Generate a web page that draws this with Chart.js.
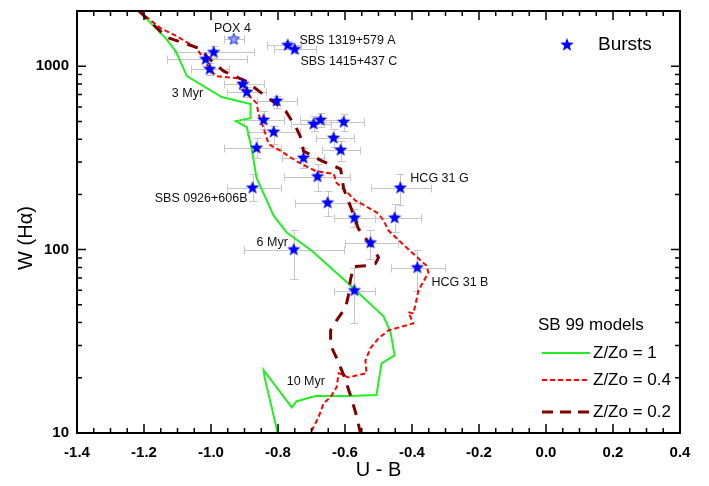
<!DOCTYPE html>
<html>
<head>
<meta charset="utf-8">
<script src="https://cdn.jsdelivr.net/npm/chart.js@4.4.0/dist/chart.umd.min.js"></script>
<style>
  html, body { margin: 0; padding: 0; background: #fff; }
  #wrap { width: 709px; height: 486px; }
</style>
</head>
<body>
<div id="wrap"><canvas id="myChart"></canvas></div>
<script>
// bursts: U-B colour, W(Halpha) and error bar ends
var burstUB   = [-0.932, -0.771, -0.750, -0.992, -1.016, -1.004, -0.905, -0.893, -0.804, -0.843, -0.813, -0.864, -0.876, -0.694, -0.673, -0.604, -0.634, -0.613, -0.724, -0.682, -0.435, -0.652, -0.572, -0.452, -0.524, -0.753, -0.384, -0.572];
var burstW    = [1402, 1301, 1237, 1191, 1092, 963, 798, 723, 646, 509, 438, 358, 217, 484, 509, 496, 406, 349, 316, 250, 217, 180, 149, 149, 109, 100, 79.8, 59.8];
var burstUBLo = [-0.962, -0.834, -0.813, -1.111, -1.132, -1.060, -0.962, -0.953, -0.864, -0.902, -0.893, -0.962, -0.953, -0.762, -0.733, -0.664, -0.688, -0.670, -0.789, -0.783, -0.521, -0.750, -0.634, -0.509, -0.601, -0.902, -0.464, -0.634];
var burstUBHi = [-0.902, -0.730, -0.688, -0.873, -0.893, -0.947, -0.843, -0.837, -0.744, -0.783, -0.733, -0.792, -0.792, -0.643, -0.613, -0.542, -0.572, -0.554, -0.664, -0.584, -0.342, -0.554, -0.509, -0.372, -0.441, -0.604, -0.300, -0.509];
var burstWLo  = [1334, 1237, 1177, 1105, 1000, 894, 750, 679, 591, 455, 376, 316, 185, 443, 466, 443, 363, 305, 279, 209, 174, 153, 132, 124, 89, 69, 59.8, 39.9];
var burstWHi  = [1456, 1367, 1301, 1284, 1177, 1038, 850, 769, 687, 569, 472, 406, 259, 535, 555, 548, 455, 391, 358, 293, 259, 209, 167, 178, 128, 128, 100, 79.8];

// SB 99 model tracks
var z1UB = [-1.215, -1.135, -1.105, -1.072, -0.968, -0.882, -0.882, -0.926, -0.893, -0.879, -0.864, -0.813, -0.774, -0.700, -0.590, -0.485, -0.464, -0.452, -0.491, -0.506, -0.590, -0.688, -0.744, -0.759, -0.843, -0.840, -0.801];
var z1W  = [2000, 1419, 1206, 883, 679, 621, 521, 502, 465, 358, 246, 153, 124, 98.8, 65.3, 43.3, 35.4, 26.5, 24.0, 16.1, 15.9, 15.9, 14.9, 13.8, 22.0, 20.1, 10];

var z04UB = [-1.215, -1.150, -1.102, -1.042, -1.013, -0.986, -0.923, -0.908, -0.879, -0.864, -0.858, -0.843, -0.828, -0.792, -0.747, -0.688, -0.634, -0.625, -0.598, -0.569, -0.551, -0.500, -0.485, -0.470, -0.432, -0.390, -0.357, -0.351, -0.381, -0.390, -0.396, -0.411, -0.396, -0.470, -0.500, -0.524, -0.539, -0.536, -0.590, -0.619, -0.625, -0.643, -0.664, -0.679, -0.703];
var z04W  = [2000, 1610, 1456, 1253, 1025, 883, 861, 759, 670, 629, 548, 460, 376, 345, 305, 268, 259, 231, 209, 185, 178, 157, 144, 127, 109, 92.7, 81.8, 75.0, 59.8, 49.7, 44.9, 45.5, 39.6, 36.3, 32.8, 29.0, 24.9, 21.2, 20.1, 21.2, 17.8, 15.7, 14.5, 12.2, 10];

var z02UB = [-1.215, -1.132, -1.036, -1.007, -0.962, -0.896, -0.837, -0.777, -0.744, -0.730, -0.724, -0.670, -0.613, -0.604, -0.581, -0.560, -0.515, -0.500, -0.509, -0.536, -0.575, -0.584, -0.590, -0.598, -0.625, -0.643, -0.643, -0.625, -0.604, -0.584, -0.566, -0.554];
var z02W  = [2000, 1438, 1253, 1105, 939, 828, 687, 569, 455, 401, 345, 305, 275, 215, 167, 130, 101, 90.5, 84.0, 81.8, 80.9, 67.9, 56.2, 48.4, 41.1, 36.3, 30.1, 25.6, 20.7, 16.1, 12.5, 10];

// text notes (left edge, middle)
var noteText = ['POX 4', 'SBS 1319+579 A', 'SBS 1415+437 C', '3 Myr', 'SBS 0926+606B', 'HCG 31 G', '6 Myr', 'HCG 31 B', '10 Myr'];
var noteUB   = [-0.991, -0.736, -0.733, -1.117, -1.168, -0.405, -0.864, -0.342, -0.774];
var noteW    = [1609, 1384, 1065, 713, 189, 243, 109, 66.3, 19.0];

var FONT = '"Liberation Sans", Arial, Helvetica, sans-serif';

function makeStar(fill, stroke, r) {
    var c = document.createElement('canvas');
    c.width = c.height = 2 * r + 2;
    var g = c.getContext('2d');
    g.beginPath();
    for (var i = 0; i < 10; i++) {
        var rr = i % 2 ? r * 0.42 : r;
        var ang = -Math.PI / 2 + i * Math.PI / 5;
        g.lineTo(r + 1 + rr * Math.cos(ang), r + 1 + rr * Math.sin(ang));
    }
    g.closePath();
    g.fillStyle = fill;
    g.fill();
    if (stroke) { g.strokeStyle = stroke; g.lineWidth = 1; g.stroke(); }
    return c;
}

var star = makeStar('#0000ff', null, 7);
var starPale = makeStar('#9aa4ff', '#2030ff', 6);

function pts(xs, ys) {
    return xs.map(function (v, i) { return { x: v, y: ys[i] }; });
}

var errorBars = {
    id: 'errorBars',
    beforeDatasetsDraw: function (chart) {
        var ctx = chart.ctx, xs = chart.scales.x, ys = chart.scales.y;
        ctx.save();
        ctx.strokeStyle = '#c6c6c6';
        ctx.lineWidth = 1;
        ctx.beginPath();
        for (var i = 0; i < burstUB.length; i++) {
            var x = Math.round(xs.getPixelForValue(burstUB[i])) + 0.5;
            var y = Math.round(ys.getPixelForValue(burstW[i])) + 0.5;
            var x0 = Math.round(xs.getPixelForValue(burstUBLo[i])) + 0.5;
            var x1 = Math.round(xs.getPixelForValue(burstUBHi[i])) + 0.5;
            var y0 = Math.round(ys.getPixelForValue(burstWLo[i])) + 0.5;
            var y1 = Math.round(ys.getPixelForValue(burstWHi[i])) + 0.5;
            ctx.moveTo(x0, y); ctx.lineTo(x1, y);
            ctx.moveTo(x0, y - 4); ctx.lineTo(x0, y + 4);
            ctx.moveTo(x1, y - 4); ctx.lineTo(x1, y + 4);
            ctx.moveTo(x, y0); ctx.lineTo(x, y1);
            ctx.moveTo(x - 4, y0); ctx.lineTo(x + 4, y0);
            ctx.moveTo(x - 4, y1); ctx.lineTo(x + 4, y1);
        }
        ctx.stroke();
        ctx.restore();
    }
};

var frameAndText = {
    id: 'frameAndText',
    afterDraw: function (chart) {
        var ctx = chart.ctx, a = chart.chartArea, xs = chart.scales.x, ys = chart.scales.y;
        ctx.save();
        // frame
        ctx.strokeStyle = '#000';
        ctx.lineWidth = 2;
        ctx.strokeRect(a.left, a.top, a.right - a.left, a.bottom - a.top);
        // inward ticks
        ctx.lineWidth = 1.5;
        ctx.beginPath();
        for (var i = 0; i <= 36; i++) {
            var px = xs.getPixelForValue(-1.4 + i * 0.05);
            var len = i % 4 === 0 ? 9 : 5;
            ctx.moveTo(px, a.bottom); ctx.lineTo(px, a.bottom - len);
            ctx.moveTo(px, a.top); ctx.lineTo(px, a.top + len);
        }
        for (var e = 1; e <= 3; e++) {
            for (var k = 1; k <= 9; k++) {
                var v = k * Math.pow(10, e);
                if (v > ys.max) break;
                var py = ys.getPixelForValue(v);
                var ylen = k === 1 ? 9 : 5;
                ctx.moveTo(a.left, py); ctx.lineTo(a.left + ylen, py);
                ctx.moveTo(a.right, py); ctx.lineTo(a.right - ylen, py);
            }
        }
        ctx.stroke();

        // notes
        ctx.fillStyle = '#111';
        ctx.font = '12.5px ' + FONT;
        ctx.textAlign = 'left';
        ctx.textBaseline = 'middle';
        for (var n = 0; n < noteText.length; n++) {
            ctx.fillText(noteText[n], xs.getPixelForValue(noteUB[n]), ys.getPixelForValue(noteW[n]));
        }

        // axis titles
        ctx.fillStyle = '#000';
        ctx.font = '20px ' + FONT;
        ctx.textAlign = 'center';
        ctx.fillText('U - B', (a.left + a.right) / 2, 470);
        ctx.save();
        ctx.translate(26, 238);
        ctx.rotate(-Math.PI / 2);
        ctx.fillText('W (H\u03b1)', 0, 0);
        ctx.restore();

        // legend
        ctx.drawImage(star, 567 - 8, 45 - 8);
        ctx.textAlign = 'left';
        ctx.font = '19px ' + FONT;
        ctx.fillText('Bursts', 598, 45);
        ctx.font = '17px ' + FONT;
        ctx.fillText('SB 99 models', 538, 325);
        var rows = [
            { y: 353, c: '#22ee22', w: 2, d: [], t: 'Z/Zo = 1' },
            { y: 380, c: '#ff0000', w: 2, d: [5, 3], t: 'Z/Zo = 0.4' },
            { y: 412, c: '#800000', w: 3, d: [11, 7], t: 'Z/Zo = 0.2' }
        ];
        rows.forEach(function (r) {
            ctx.strokeStyle = r.c;
            ctx.lineWidth = r.w;
            ctx.setLineDash(r.d);
            ctx.beginPath();
            ctx.moveTo(542, r.y); ctx.lineTo(590, r.y);
            ctx.stroke();
            ctx.setLineDash([]);
            ctx.fillText(r.t, 593, r.y);
        });
        ctx.restore();
    }
};

var pointStyles = burstUB.map(function (v, i) { return i === 0 ? starPale : star; });

var ctx = document.getElementById('myChart').getContext('2d');
var myChart = new Chart(ctx, {
    type: 'scatter',
    data: {
        datasets: [{
            label: 'Bursts',
            data: pts(burstUB, burstW),
            pointStyle: pointStyles,
            pointRadius: 7,
            showLine: false,
            order: 0
        }, {
            label: 'Z/Zo = 1',
            data: pts(z1UB, z1W),
            showLine: true,
            borderColor: '#22ee22',
            borderWidth: 2,
            pointRadius: 0,
            tension: 0,
            order: 3
        }, {
            label: 'Z/Zo = 0.4',
            data: pts(z04UB, z04W),
            showLine: true,
            borderColor: '#ff0000',
            borderWidth: 2,
            borderDash: [5, 3],
            pointRadius: 0,
            tension: 0,
            order: 2
        }, {
            label: 'Z/Zo = 0.2',
            data: pts(z02UB, z02W),
            showLine: true,
            borderColor: '#800000',
            borderWidth: 3,
            borderDash: [11, 9],
            pointRadius: 0,
            tension: 0,
            order: 1
        }]
    },
    options: {
        responsive: true,
        maintainAspectRatio: false,
        animation: false,
        layout: { padding: { top: 11, right: 29, left: 0, bottom: 0 } },
        plugins: {
            legend: { display: false },
            tooltip: { enabled: false }
        },
        scales: {
            x: {
                type: 'linear',
                min: -1.4,
                max: 0.4,
                grid: { display: false, drawTicks: false },
                border: { display: false },
                ticks: {
                    stepSize: 0.2,
                    padding: 11,
                    autoSkip: false,
                    maxRotation: 0,
                    color: '#000',
                    font: { family: FONT, size: 15, weight: 'bold' },
                    callback: function (v) { return Math.abs(v) < 1e-9 ? '0.0' : Number(v).toFixed(1); }
                },
                afterFit: function (s) { s.height = 53; s.paddingLeft = 0; s.paddingRight = 0; }
            },
            y: {
                type: 'logarithmic',
                min: 10,
                max: 2000,
                grid: { display: false, drawTicks: false },
                border: { display: false },
                ticks: {
                    padding: 8,
                    autoSkip: false,
                    color: '#000',
                    font: { family: FONT, size: 15, weight: 'bold' },
                    callback: function (v) {
                        var l = Math.log10(v);
                        return Math.abs(l - Math.round(l)) < 1e-9 ? String(v) : '';
                    }
                },
                afterFit: function (s) { s.width = 77; s.paddingTop = 0; s.paddingBottom = 0; }
            }
        }
    },
    plugins: [errorBars, frameAndText]
});
</script>
</body>
</html>
